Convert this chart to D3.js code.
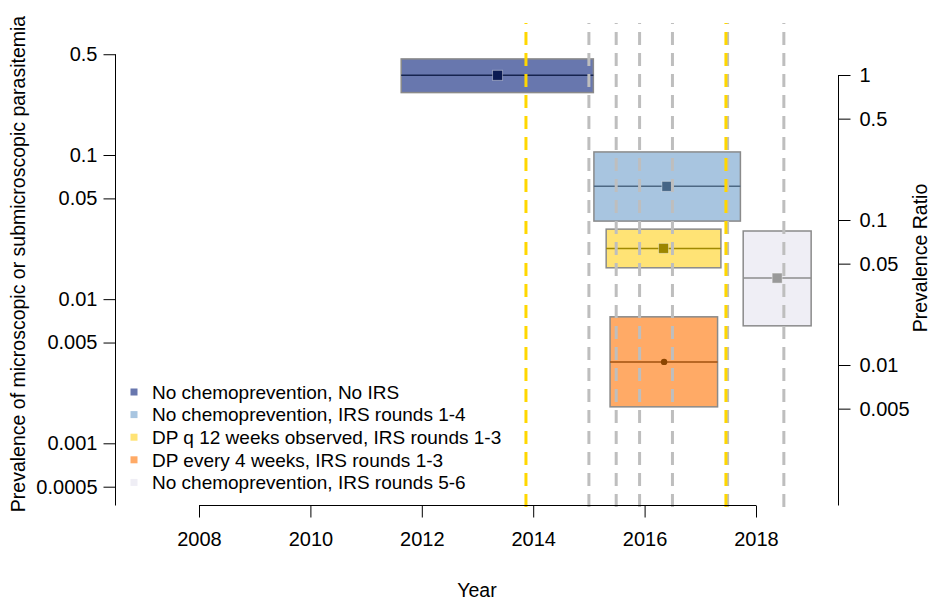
<!DOCTYPE html>
<meta charset="utf-8">
<style>
body { margin: 0; background: #fff; }
svg text { font-family: "Liberation Sans", Arial, sans-serif; fill: #000; }
.axis text { font-size: 20px; }
.axis line { stroke: #000; }
</style>
<body>
<svg width="931" height="601"></svg>

<script src="https://cdn.jsdelivr.net/npm/d3@7"></script>
<script>

// ---- data ----
var groups = ["No chemoprevention, No IRS",
              "No chemoprevention, IRS rounds 1-4",
              "DP q 12 weeks observed, IRS rounds 1-3",
              "DP every 4 weeks, IRS rounds 1-3",
              "No chemoprevention, IRS rounds 5-6"];

// time span of each period (years) and the mid point
var startYear = [2011.63, 2015.09, 2015.31, 2015.38, 2017.77];
var endYear   = [2015.08, 2017.72, 2017.37, 2017.31, 2018.99];
var midYear   = [2013.36, 2016.40, 2016.34, 2016.35, 2018.38];

// prevalence range and central value
var prevHigh = [0.464, 0.105, 0.0306, 0.00754, 0.0297];
var prevLow  = [0.271, 0.0348, 0.0165, 0.00179, 0.00653];
var prevMid  = [0.357, 0.0606, 0.0225, 0.00367, 0.0140];

// dashed reference lines
var irsYears = [2015.00, 2015.49, 2015.91, 2016.50, 2017.49, 2018.50];
var dpYears  = [2013.87, 2017.46];

var xTicks = [2008, 2010, 2012, 2014, 2016, 2018];
var leftTicks = [0.0005, 0.001, 0.005, 0.01, 0.05, 0.1, 0.5];
var rightTicks = [0.005, 0.01, 0.05, 0.1, 0.5, 1];

// ---- styles ----
var fills  = ["#6877ae", "#a8c5e0", "#ffe375", "#ffaa66", "#efeef5"];
var lines  = ["#16244f", "#4d6883", "#a08900", "#a0500f", "#8c8c8c"];
var points = ["#0b1b52", "#466686", "#9c8600", "#8b4500", "#999999"];

var svg = d3.select("svg");

var x = d3.scaleLinear().domain([2008, 2018]).range([199, 756]);
var yL = d3.scaleLog().domain([0.001, 0.1]).range([443.3, 155]);
var yR = d3.scaleLog().domain([0.01, 1]).range([365, 75]);

var plotTop = 23, plotBottom = 507, axisY = 505.5;
var leftX = 115.5, rightX = 838.5;

var fmt = function(d) { return String(d); };

// boxes
var boxes = svg.append("g");
groups.forEach(function(g, i) {
  boxes.append("rect")
      .attr("x", x(startYear[i]))
      .attr("y", yL(prevHigh[i]))
      .attr("width", x(endYear[i]) - x(startYear[i]))
      .attr("height", yL(prevLow[i]) - yL(prevHigh[i]))
      .attr("fill", fills[i])
      .attr("stroke", "#8a8a8a")
      .attr("stroke-width", 1.5);

  boxes.append("line")
      .attr("x1", x(startYear[i])).attr("x2", x(endYear[i]))
      .attr("y1", yL(prevMid[i])).attr("y2", yL(prevMid[i]))
      .attr("stroke", lines[i])
      .attr("stroke-width", 1.5);

  if (i === 3) {
    boxes.append("circle")
        .attr("cx", x(midYear[i])).attr("cy", yL(prevMid[i]))
        .attr("r", 3.2)
        .attr("fill", points[i]);
  } else {
    boxes.append("rect")
        .attr("x", x(midYear[i]) - 5).attr("y", yL(prevMid[i]) - 5)
        .attr("width", 10).attr("height", 10)
        .attr("fill", points[i])
        .attr("stroke", "#ffffff").attr("stroke-opacity", 0.4);
  }
});

// dashed vertical lines, gray first then gold on top
function vlines(years, color) {
  svg.append("g").selectAll("line")
    .data(years)
    .enter().append("line")
      .attr("x1", function(d) { return x(d); })
      .attr("x2", function(d) { return x(d); })
      .attr("y1", plotBottom).attr("y2", plotTop)
      .attr("stroke", color)
      .attr("stroke-width", 3)
      .attr("stroke-dasharray", "13,8");
}
vlines(irsYears, "#bebebe");
vlines(dpYears, "#ffd700");

// axes
var gx = svg.append("g").attr("class", "axis")
    .attr("transform", "translate(0," + axisY + ")")
    .call(d3.axisBottom(x).tickValues(xTicks).tickFormat(fmt).tickSize(12).tickPadding(14));
gx.select(".domain").remove();
gx.append("line").attr("x1", x(2008)).attr("x2", x(2018)).attr("stroke", "#000");

var gl = svg.append("g").attr("class", "axis")
    .attr("transform", "translate(" + leftX + ",0)")
    .call(d3.axisLeft(yL).tickValues(leftTicks).tickFormat(fmt).tickSize(12).tickPadding(6));
gl.select(".domain").remove();
gl.append("line").attr("y1", yL(0.5)).attr("y2", axisY).attr("stroke", "#000");

var gr = svg.append("g").attr("class", "axis")
    .attr("transform", "translate(" + rightX + ",0)")
    .call(d3.axisRight(yR).tickValues(rightTicks).tickFormat(fmt).tickSize(12).tickPadding(9));
gr.select(".domain").remove();
gr.append("line").attr("y1", yR(1)).attr("y2", axisY).attr("stroke", "#000");

svg.selectAll(".axis text").attr("fill", "#000");

// titles
svg.append("text")
    .attr("x", (leftX + rightX) / 2).attr("y", 597)
    .attr("text-anchor", "middle")
    .style("font-size", "19.5px")
    .text("Year");

svg.append("text")
    .attr("transform", "translate(25,264) rotate(-90)")
    .attr("text-anchor", "middle")
    .style("font-size", "19.5px")
    .text("Prevalence of microscopic or submicroscopic parasitemia");

svg.append("text")
    .attr("transform", "translate(927,258) rotate(-90)")
    .attr("text-anchor", "middle")
    .style("font-size", "19.5px")
    .text("Prevalence Ratio");

// legend
var legend = svg.append("g").attr("transform", "translate(134,392)");
groups.forEach(function(g, i) {
  var row = legend.append("g").attr("transform", "translate(0," + (i * 22.6) + ")");
  row.append("rect")
      .attr("x", -3.5).attr("y", -3.5).attr("width", 7).attr("height", 7)
      .attr("fill", fills[i]);
  row.append("text")
      .attr("x", 18).attr("dy", "0.36em")
      .style("font-size", "19px")
      .text(g);
});

</script>
</body>
